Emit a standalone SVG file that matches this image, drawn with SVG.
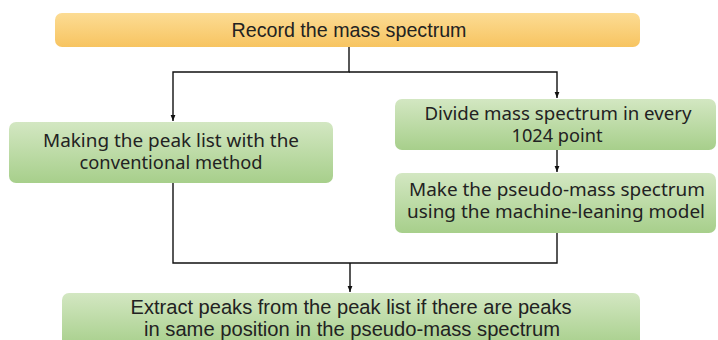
<svg xmlns="http://www.w3.org/2000/svg" width="718" height="340" viewBox="0 0 718 340">
<defs>
<linearGradient id="gy" x1="0" y1="0" x2="0" y2="1"><stop offset="0" stop-color="#fcdc94"/><stop offset="1" stop-color="#f7c461"/></linearGradient>
<linearGradient id="gg" x1="0" y1="0" x2="0" y2="1"><stop offset="0" stop-color="#d3e7c2"/><stop offset="1" stop-color="#a7cf8b"/></linearGradient>
<marker id="ah" viewBox="0 0 10 10" refX="10" refY="5" markerWidth="6" markerHeight="6" markerUnits="userSpaceOnUse" orient="auto"><path d="M0,1 L10,5 L0,9 z" fill="#111"/></marker>
<style>
.t{font-family:"Noto Sans","Liberation Sans",sans-serif;font-size:17.5px;fill:#222;text-anchor:middle}
.n{font-family:"Liberation Sans","Noto Sans",sans-serif;font-size:20.5px;fill:#222;text-anchor:middle}
.c{fill:none;stroke:#111;stroke-width:1.4}
</style>
</defs>
<g id="connectors">
<polyline class="c" points="349,47 349,72 173,72 173,121" marker-end="url(#ah)"/>
<polyline class="c" points="349,72 557,72 557,98" marker-end="url(#ah)"/>
<line class="c" x1="557" y1="150" x2="557" y2="172" marker-end="url(#ah)"/>
<polyline class="c" points="173,183 173,263 557,263 557,233"/>
<line class="c" x1="350" y1="263" x2="350" y2="292" marker-end="url(#ah)"/>
</g>
<g id="n1"><rect x="55" y="13" width="585" height="34" rx="7" fill="url(#gy)"/>
<text class="n" x="349" y="37" textLength="235" lengthAdjust="spacingAndGlyphs">Record the mass spectrum</text></g>
<g id="n2"><rect x="9" y="122" width="324" height="61" rx="7" fill="url(#gg)"/>
<text class="t" x="171" y="147" textLength="256" lengthAdjust="spacingAndGlyphs">Making the peak list with the</text>
<text class="t" x="171" y="169" textLength="183" lengthAdjust="spacingAndGlyphs">conventional method</text></g>
<g id="n3"><rect x="395" y="99" width="321" height="51" rx="7" fill="url(#gg)"/>
<text class="t" x="558" y="120" textLength="267" lengthAdjust="spacingAndGlyphs">Divide mass spectrum in every</text>
<text class="t" x="557" y="142" textLength="91" lengthAdjust="spacingAndGlyphs">1024 point</text></g>
<g id="n4"><rect x="395" y="173" width="321" height="60" rx="7" fill="url(#gg)"/>
<text class="t" x="557" y="196" textLength="296" lengthAdjust="spacingAndGlyphs">Make the pseudo-mass spectrum</text>
<text class="t" x="556" y="218" textLength="298" lengthAdjust="spacingAndGlyphs">using the machine-leaning model</text></g>
<g id="n5"><rect x="62" y="293" width="578" height="54" rx="7" fill="url(#gg)"/>
<text class="n" x="351" y="314" textLength="441" lengthAdjust="spacingAndGlyphs">Extract peaks from the peak list if there are peaks</text>
<text class="n" x="352" y="336" textLength="416" lengthAdjust="spacingAndGlyphs">in same position in the pseudo-mass spectrum</text></g>
</svg>
